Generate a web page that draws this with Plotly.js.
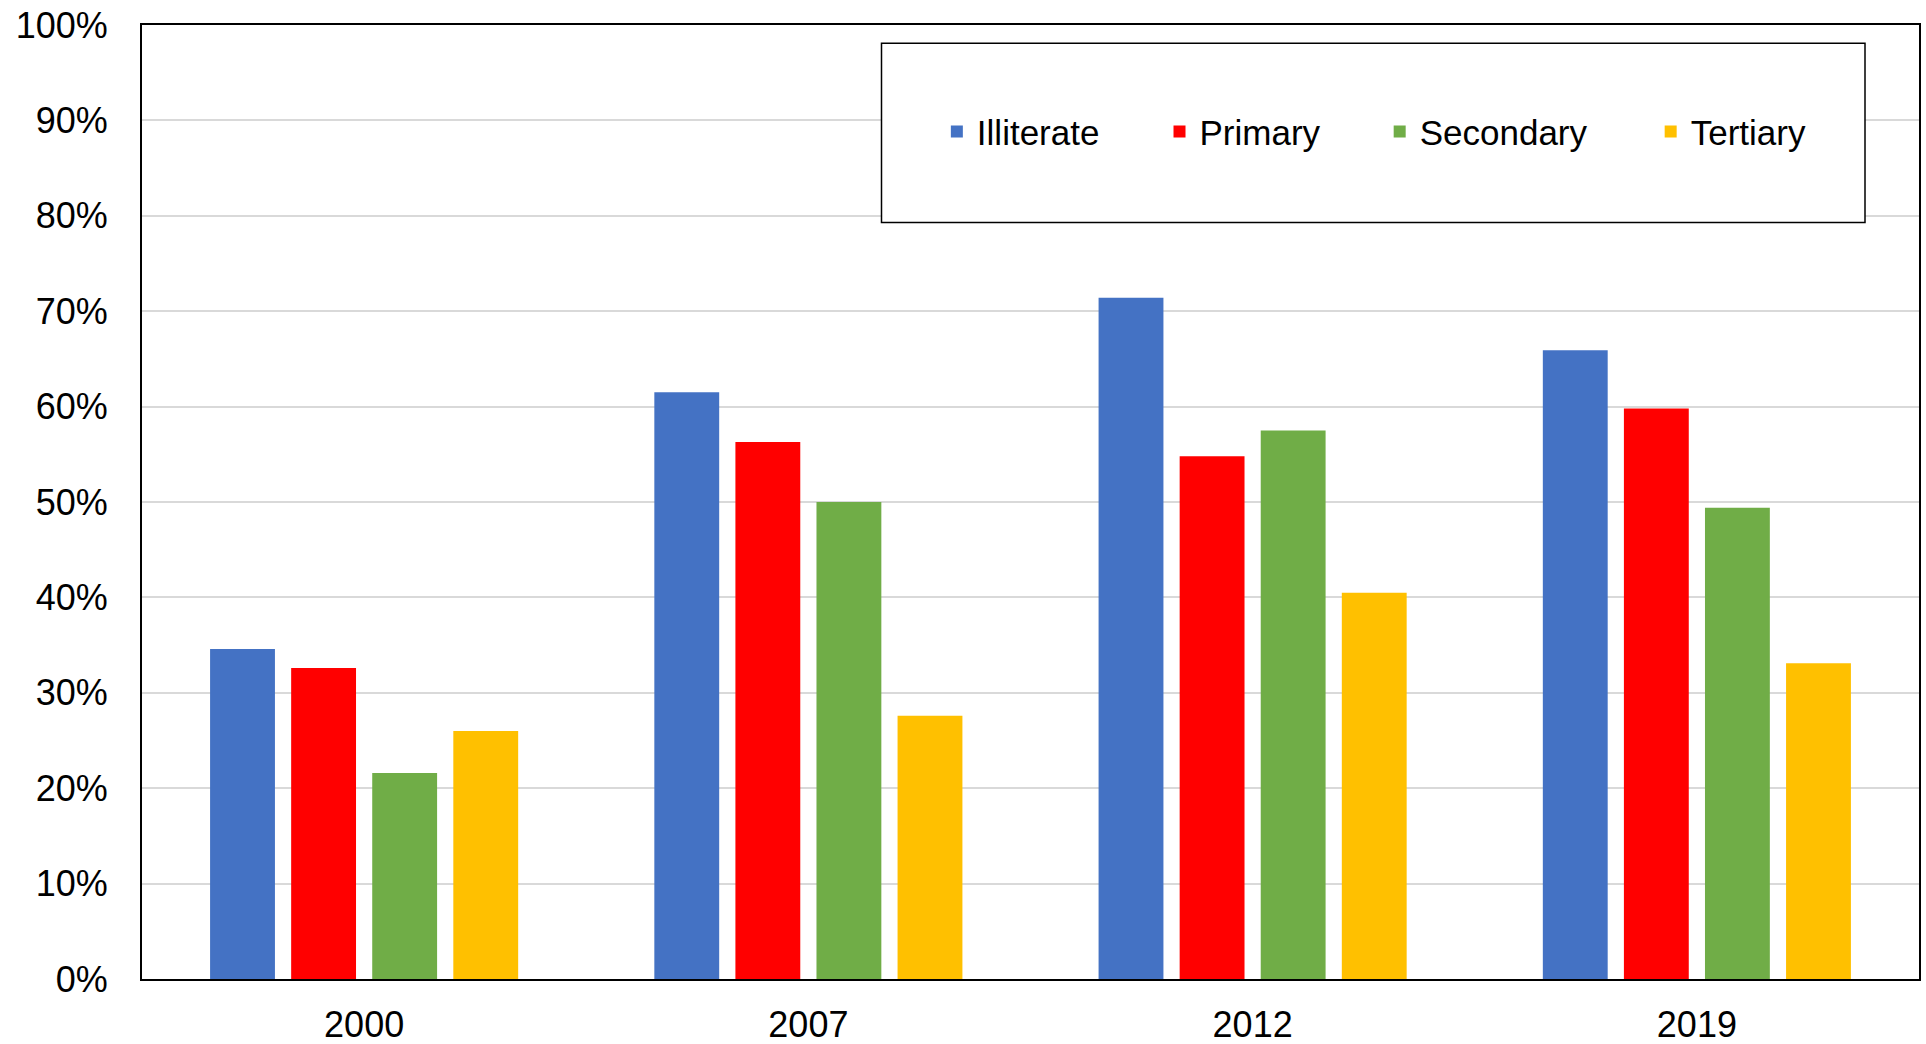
<!DOCTYPE html>
<html>
<head>
<meta charset="utf-8">
<script src="https://cdn.plot.ly/plotly-3.0.1.min.js"></script>
<style>html,body{margin:0;padding:0;background:#fff;}#chart{width:1926px;height:1044px;}</style>
</head>
<body>
<div id="chart"></div>
<script>
const years = ["2000", "2007", "2012", "2019"];
const seriesNames = ["Illiterate", "Primary", "Secondary", "Tertiary"];
const illiterate = [34.6, 61.5, 71.4, 65.9];
const primary = [32.6, 56.3, 54.8, 59.8];
const secondary = [21.6, 50.0, 57.5, 49.4];
const tertiary = [26.0, 27.6, 40.5, 33.1];
const yTicks = [0, 10, 20, 30, 40, 50, 60, 70, 80, 90, 100];
const colors = ["#4472C4", "#FF0000", "#70AD47", "#FFC000"];

const values = [illiterate, primary, secondary, tertiary];
const legendIds = ["legend", "legend2", "legend3", "legend4"];
const traces = values.map((v, i) => ({
  type: "bar",
  name: seriesNames[i],
  x: years,
  y: v,
  legend: legendIds[i],
  marker: {color: colors[i], line: {width: 0}},
  hoverinfo: "none"
}));

const font = {family: "Liberation Sans, Arial, sans-serif", size: 35, color: "#000"};
const tickFont = {family: "Liberation Sans, Arial, sans-serif", size: 36, color: "#000"};
const legendX = [0.4473, 0.5726, 0.6965, 0.8490];

const layout = {
  width: 1926,
  height: 1044,
  margin: {l: 142, r: 7, t: 25, b: 65, pad: 0},
  paper_bgcolor: "#fff",
  plot_bgcolor: "#fff",
  font: font,
  barmode: "group",
  bargap: 0.27,
  bargroupgap: 0.2,
  showlegend: true,
  xaxis: {
    type: "category",
    showline: true, linecolor: "#000", linewidth: 2, mirror: true,
    showgrid: false, ticks: "", ticklabelstandoff: 13,
    tickfont: tickFont, zeroline: false, fixedrange: true
  },
  yaxis: {
    range: [0, 100],
    tickvals: yTicks,
    ticktext: yTicks.map(t => t + "%"),
    showline: true, linecolor: "#000", linewidth: 2, mirror: true,
    showgrid: true, gridcolor: "#d9d9d9", gridwidth: 2,
    ticks: "", ticklabelstandoff: 25,
    zeroline: false, tickfont: tickFont, fixedrange: true
  },
  shapes: [{
    type: "rect", xref: "paper", yref: "paper",
    x0: (881.5 - 142) / 1777, x1: (1865 - 142) / 1777,
    y0: (979.5 - 222.7) / 954.5, y1: (979.5 - 43.3) / 954.5,
    fillcolor: "#fff", line: {color: "#000", width: 1.5}, layer: "above"
  }]
};
legendIds.forEach((id, i) => {
  layout[id] = {
    orientation: "h",
    x: legendX[i], xanchor: "left",
    y: 0.888, yanchor: "middle",
    bgcolor: "rgba(0,0,0,0)",
    borderwidth: 0,
    font: font
  };
});

Plotly.newPlot("chart", traces, layout, {displayModeBar: false, staticPlot: true});
</script>
</body>
</html>
